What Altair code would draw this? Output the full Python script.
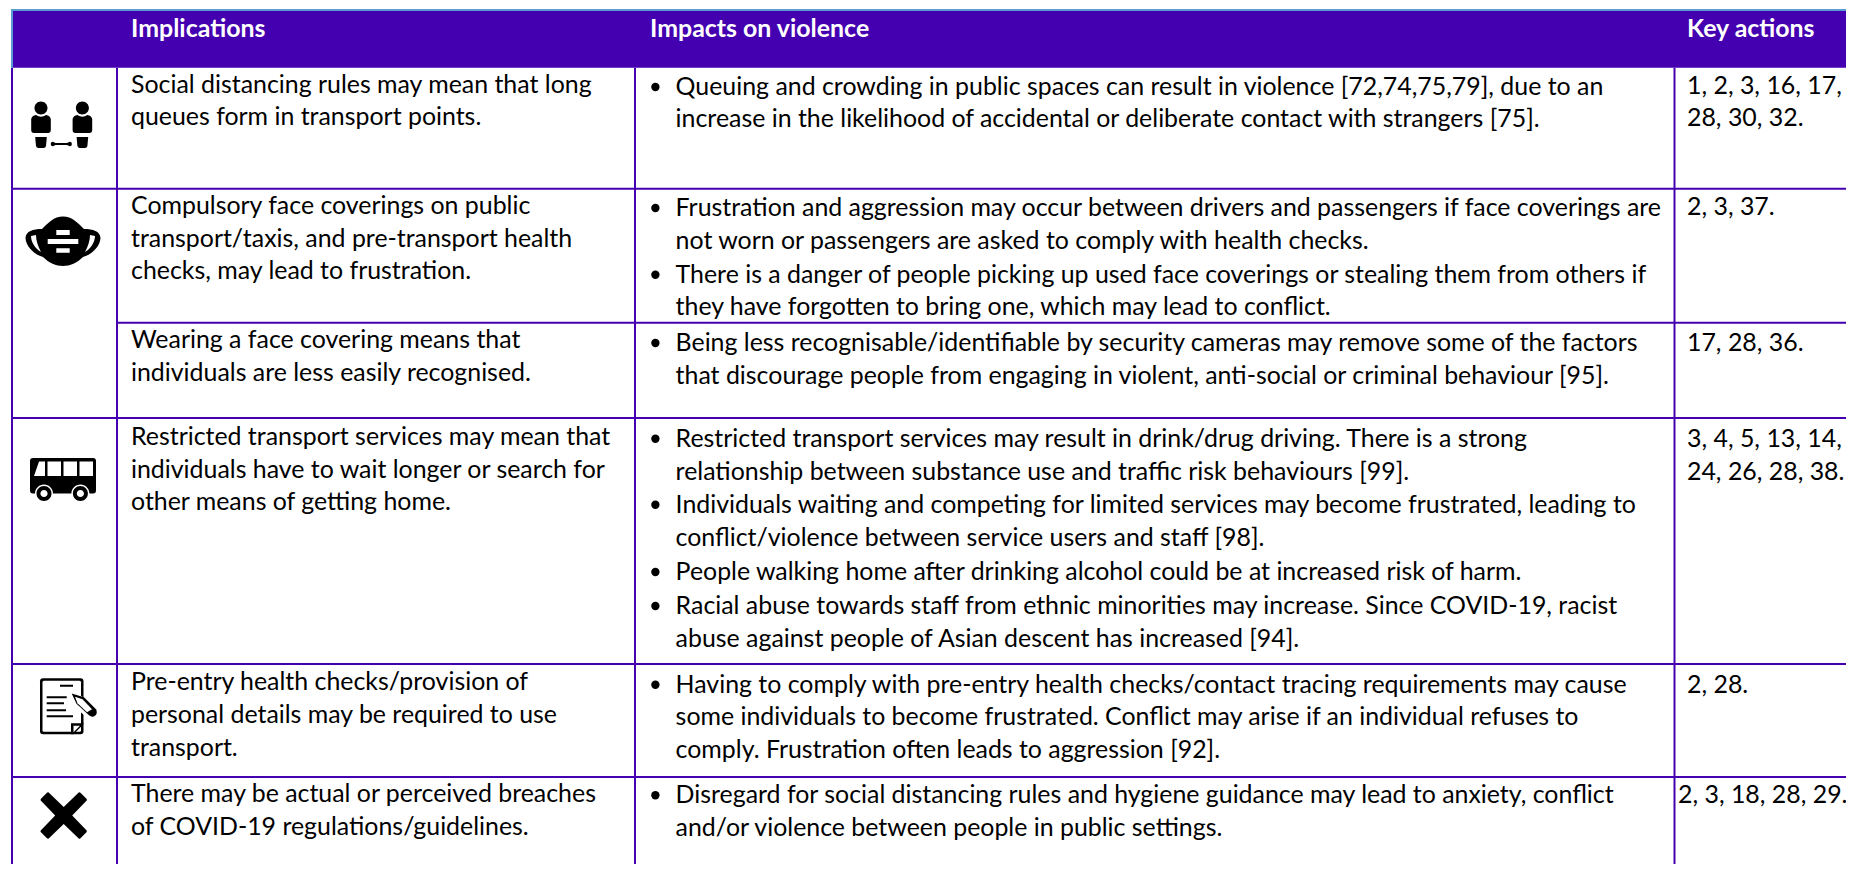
import altair as alt
import pandas as pd

FONT = "Lato"
SIZE = 24.9
PURPLE = "#4400B0"
BLUE = "#5B9BD5"

# ---- table content -------------------------------------------------
headers = ["Implications", "Impacts on violence", "Key actions"]
header_x = [131, 650, 1687]
header_base = 37

implications = [
    (92.7, "Social distancing rules may mean that long"),
    (125.3, "queues form in transport points."),
    (214, "Compulsory face coverings on public"),
    (246.7, "transport/taxis, and pre-transport health"),
    (279.3, "checks, may lead to frustration."),
    (348, "Wearing a face covering means that"),
    (381, "individuals are less easily recognised."),
    (445, "Restricted transport services may mean that"),
    (477.7, "individuals have to wait longer or search for"),
    (510, "other means of getting home."),
    (690, "Pre-entry health checks/provision of"),
    (723, "personal details may be required to use"),
    (755.7, "transport."),
    (802, "There may be actual or perceived breaches"),
    (835, "of COVID-19 regulations/guidelines."),
]

impacts = [
    (95, "Queuing and crowding in public spaces can result in violence [72,74,75,79], due to an", True),
    (127, "increase in the likelihood of accidental or deliberate contact with strangers [75].", False),
    (216, "Frustration and aggression may occur between drivers and passengers if face coverings are", True),
    (249, "not worn or passengers are asked to comply with health checks.", False),
    (282.7, "There is a danger of people picking up used face coverings or stealing them from others if", True),
    (315, "they have forgotten to bring one, which may lead to conflict.", False),
    (351, "Being less recognisable/identifiable by security cameras may remove some of the factors", True),
    (384, "that discourage people from engaging in violent, anti-social or criminal behaviour [95].", False),
    (446.7, "Restricted transport services may result in drink/drug driving. There is a strong", True),
    (480, "relationship between substance use and traffic risk behaviours [99].", False),
    (512.7, "Individuals waiting and competing for limited services may become frustrated, leading to", True),
    (546, "conflict/violence between service users and staff [98].", False),
    (580, "People walking home after drinking alcohol could be at increased risk of harm.", True),
    (614, "Racial abuse towards staff from ethnic minorities may increase. Since COVID-19, racist", True),
    (646.7, "abuse against people of Asian descent has increased [94].", False),
    (692.7, "Having to comply with pre-entry health checks/contact tracing requirements may cause", True),
    (725, "some individuals to become frustrated. Conflict may arise if an individual refuses to", False),
    (757.7, "comply. Frustration often leads to aggression [92].", False),
    (803.3, "Disregard for social distancing rules and hygiene guidance may lead to anxiety, conflict", True),
    (836, "and/or violence between people in public settings.", False),
]

actions = [
    (94, 1687, "1, 2, 3, 16, 17,"),
    (126, 1687, "28, 30, 32."),
    (215, 1687, "2, 3, 37."),
    (351, 1687, "17, 28, 36."),
    (446.7, 1687, "3, 4, 5, 13, 14,"),
    (480, 1687, "24, 26, 28, 38."),
    (692.7, 1687, "2, 28."),
    (802.7, 1678, "2, 3, 18, 28, 29."),
]

# ---- grid ------------------------------------------------------------
col_lines = [12, 117, 635, 1674.5]
row_full = [188.7, 418, 664, 777]
row_sub = [322.7]
TOP, HEAD_BOT, RIGHT = 11, 67.7, 1846
PAGE_BOTTOM = 864

X = alt.Scale(domain=[8, RIGHT], range=[0, RIGHT - 8])
Y = alt.Scale(domain=[8, PAGE_BOTTOM], range=[0, PAGE_BOTTOM - 8])


def xenc(f="x"):
    return alt.X(f"{f}:Q", scale=X, axis=None)


def yenc(f="y"):
    return alt.Y(f"{f}:Q", scale=Y, axis=None)


def rules(df, color):
    return alt.Chart(df).mark_rule(color=color, strokeWidth=2, strokeCap="butt").encode(
        x=xenc("x"), x2="x2:Q", y=yenc("y"), y2="y2:Q"
    )


def text_layer(df, **kw):
    return alt.Chart(df).mark_text(
        font=FONT, fontSize=SIZE, align="left", baseline="alphabetic", color="#000000", **kw
    ).encode(x=xenc("x"), y=yenc("y"), text="t:N")


header_rect = alt.Chart(pd.DataFrame([{"x": 12, "x2": RIGHT, "y": TOP, "y2": HEAD_BOT}])).mark_rect(
    color=PURPLE, strokeWidth=0
).encode(x=xenc("x"), x2="x2:Q", y=yenc("y"), y2="y2:Q")

v_df = pd.DataFrame([{"x": c, "x2": c, "y": HEAD_BOT, "y2": PAGE_BOTTOM} for c in col_lines])
h_df = pd.DataFrame(
    [{"x": 12, "x2": RIGHT, "y": r, "y2": r} for r in row_full]
    + [{"x": 117, "x2": RIGHT, "y": r, "y2": r} for r in row_sub]
)
blue_df = pd.DataFrame([
    {"x": 11, "x2": RIGHT, "y": 10, "y2": 10},
    {"x": 12, "x2": 12, "y": 9, "y2": HEAD_BOT},
])

body_df = pd.DataFrame(
    [{"x": 131, "y": b, "t": t} for b, t in implications]
    + [{"x": 675.6, "y": b, "t": t} for b, t, _ in impacts]
    + [{"x": x, "y": b, "t": t} for b, x, t in actions]
)
head_df = pd.DataFrame([{"x": x, "y": header_base, "t": t} for x, t in zip(header_x, headers)])
bullet_df = pd.DataFrame([{"x": 655.4, "y": b - 8} for b, _, bul in impacts if bul])

bullets = alt.Chart(bullet_df).mark_circle(color="#000000", size=70, opacity=1).encode(
    x=xenc("x"), y=yenc("y")
)


# ---- icons (paths are in pixels around the icon centre; size=4 => scale 1) ----
def circ(cx, cy, r):
    return f"M{cx-r},{cy} A{r},{r} 0 1 0 {cx+r},{cy} A{r},{r} 0 1 0 {cx-r},{cy} Z "


def rrect(x0, y0, x1, y1, r=0):
    if r == 0:
        return f"M{x0},{y0} L{x1},{y0} L{x1},{y1} L{x0},{y1} Z "
    return (
        f"M{x0+r},{y0} L{x1-r},{y0} Q{x1},{y0} {x1},{y0+r} L{x1},{y1-r} Q{x1},{y1} {x1-r},{y1} "
        f"L{x0+r},{y1} Q{x0},{y1} {x0},{y1-r} L{x0},{y0+r} Q{x0},{y0} {x0+r},{y0} Z "
    )


def person(c):
    return (
        circ(c, -20, 6.5)
        + f"M{c-9.8},-9 Q{c-9},-12.5 {c-5},-13 Q{c},-9.5 {c+5},-13 Q{c+9},-12.5 {c+9.8},-9 "
        + f"L{c+9.8},2 Q{c+9.8},5 {c+7},5 L{c-7},5 Q{c-9.8},5 {c-9.8},2 Z "
        + f"M{c-5.8},9 L{c+5.8},9 L{c+5},18 Q{c+4.5},20 {c+2.5},20 L{c-2.5},20 Q{c-4.5},20 {c-5},18 Z "
    )


people = (
    person(-21) + person(20.4)
    + "M-11.3,16 Q-11.3,13.7 -9,13.7 L-6.5,15 L5,15 L7.6,13.7 Q9.9,13.7 9.9,16 "
    + "Q9.9,18.3 7.6,18.3 L5,17 L-6.5,17 L-9,18.3 Q-11.3,18.3 -11.3,16 Z"
)
mask = (
    "M0,-24.5 C-9,-24.5 -15,-18 -21,-12 C-30,-12 -37,-10 -37.5,-3 C-37,6 -28,14 -20,16 "
    "C-14,22 -7,25 0,25 C7,25 14,22 20,16 C28,14 37,6 37.5,-3 C37,-10 30,-12 21,-12 "
    "C15,-18 9,-24.5 0,-24.5 Z"
)
mask_w = (
    "M-32,-5 C-32,2 -27,8 -22,11 C-25,5 -27,0 -27,-6 Z M32,-5 C32,2 27,8 22,11 C25,5 27,0 27,-6 Z "
    + rrect(-6.7, -11, 6.7, -6) + rrect(-15.3, -2, 15.3, 3) + rrect(-6.7, 7.3, 6.7, 11.7)
)
bus_b = rrect(-33, -22, 33, 13.5, 3)
bus_w = (
    "M-24,-18.5 L-18,-18.5 L-18,-4 L-29,-4 Z "
    + rrect(-15.5, -18.5, -2, -4) + rrect(0.5, -18.5, 14, -4) + rrect(16.5, -18.5, 30, -4)
    + circ(-19, 13.5, 9) + circ(17.4, 13.5, 9)
)
wheel_b = circ(-19, 13.5, 7.5) + circ(17.4, 13.5, 7.5)
wheel_w = circ(-19, 13.5, 3.6) + circ(17.4, 13.5, 3.6)

doc_b = rrect(-22, -28, 21.5, 28, 3)
doc_w = rrect(-19.5, -25.5, 19, 25.5, 1.5)
doc_lines = (
    rrect(-2, -21.5, 11, -19.5) + rrect(-15.3, -10, 4.7, -8) + rrect(-15.3, -4, 2, -2)
    + rrect(-15.3, 3, 4, 5) + rrect(-15.3, 9, 11, 11)
    + "M9,28 L9,17 L21.5,17 L21.5,18 L11.5,28 Z "
)
doc_fold = "M11.5,19.5 L18,19.5 L11.5,26 Z "
pencil_halo = "M7,-15 L11,-18 L37,6 L28,14 L6,-5 Z "
pencil_b = "M9.7,-12.7 L22,-9 L34,3 Q36,7 33,9.5 Q30,11.5 27,9 L14.5,-2.5 Z "
pencil_w = "M13,-9.5 L20.5,-7 L30,3 L25,6 L15.5,-3 Z "
cross = (
    "M-15,-23 L0,-8.5 L15,-23 Q16,-23.5 17,-22.5 L23,-16.5 Q23.5,-15.5 23,-15 L8.5,0 L23,15 "
    "Q23.5,16 22.5,17 L16.5,23 Q15.5,23.5 15,23 L0,8.5 L-15,23 Q-16,23.5 -17,22.5 L-23,16.5 "
    "Q-23.5,15.5 -23,15 L-8.5,0 L-23,-15 Q-23.5,-16 -22.5,-17 L-16.5,-23 Q-15.5,-23.5 -15,-23 Z"
)

K, W = "#000000", "#FFFFFF"
icon_rows = [
    (62, 128, people, K),
    (63, 241, mask, K), (63, 241, mask_w, W),
    (63, 480, bus_b, K), (63, 480, bus_w, W), (63, 480, wheel_b, K), (63, 480, wheel_w, W),
    (62, 706.3, doc_b, K), (62, 706.3, doc_w, W), (62, 706.3, doc_lines, K), (62, 706.3, doc_fold, W),
    (62, 706.3, pencil_halo, W), (62, 706.3, pencil_b, K), (62, 706.3, pencil_w, W),
    (63.7, 815.5, cross, K),
]
icon_df = pd.DataFrame(
    [{"x": x, "y": y, "p": p, "c": c, "o": i} for i, (x, y, p, c) in enumerate(icon_rows)]
)
icons = alt.Chart(icon_df).mark_point(filled=True, size=4, opacity=1, strokeWidth=0).encode(
    x=xenc("x"),
    y=yenc("y"),
    shape=alt.Shape("p:N", scale=None),
    color=alt.Color("c:N", scale=None),
    order=alt.Order("o:Q"),
)

chart = (
    alt.layer(
        header_rect,
        rules(v_df, PURPLE),
        rules(h_df, PURPLE),
        rules(blue_df, BLUE),
        icons,
        bullets,
        text_layer(body_df),
        text_layer(head_df, fontWeight="bold").encode(color=alt.value("#FFFFFF")),
    )
    .properties(
        width=RIGHT - 8, height=PAGE_BOTTOM - 8, padding=0, background="#FFFFFF",
        autosize=alt.AutoSizeParams(type="none"),
    )
    .configure_view(strokeWidth=0)
)

chart.save("out.html", embed_options={"renderer": "svg", "actions": False})
